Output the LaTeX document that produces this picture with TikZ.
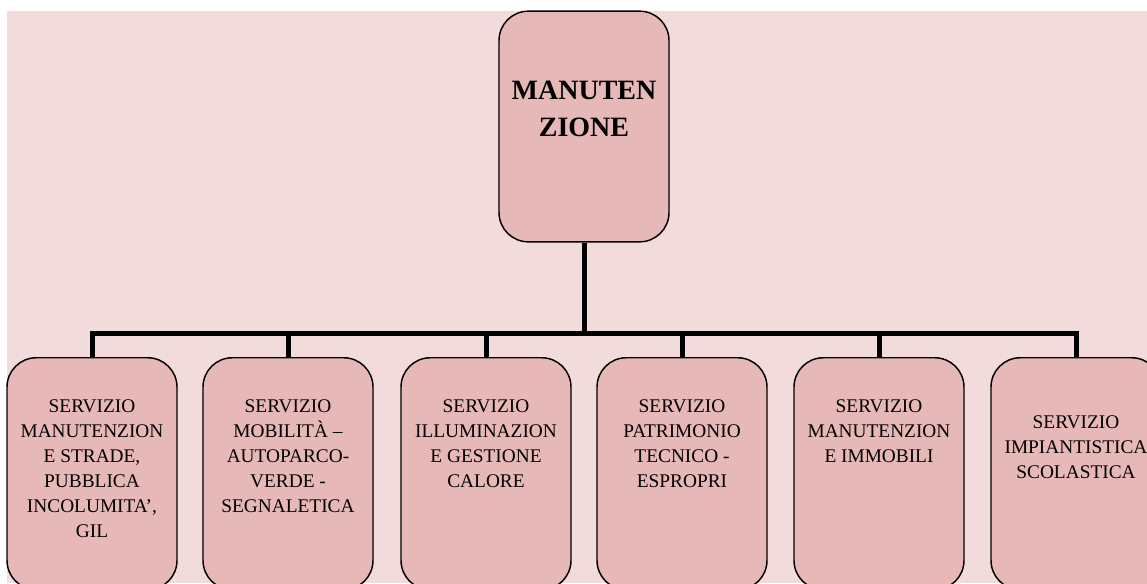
\documentclass[tikz,border=0pt]{standalone}
\usepackage{fontspec}
\setmainfont{Liberation Serif}
\usetikzlibrary{positioning}

\definecolor{bgpink}{RGB}{242,220,219}
\definecolor{boxpink}{RGB}{230,184,183}

\tikzset{
    topbox/.style={draw=black, line width=1.1pt, fill=boxpink, rounded corners=22pt,
        minimum width=127.5pt, minimum height=173pt, inner sep=0pt},
    servbox/.style={draw=black, line width=1.1pt, fill=boxpink, rounded corners=22pt,
        minimum width=127.5pt, minimum height=174pt, inner sep=0pt},
    toptext/.style={align=center, inner sep=0pt, font=\fontsize{21}{27.75}\selectfont\bfseries},
    servtext/.style={align=center, inner sep=0pt, font=\fontsize{14.5}{18.75}\selectfont},
    conn/.style={line width=3.75pt}
}

\begin{document}
\begin{tikzpicture}[x=0.75pt, y=-0.75pt]

    % --- Page and background ---
    \useasboundingbox (0,0) rectangle (1147,583);
    \clip (0,0) rectangle (1147,583);
    \fill[bgpink] (7,11) rectangle (1147,583);

    % --- Boxes ---
    % head of the area
    \node[topbox] (manut) at (584,126.5) {};
    % the six services, 197px apart
    \node[servbox, anchor=north] (strade) at (92,357) {};
    \node[servbox, anchor=north] (mobil) at (288,357) {};
    \node[servbox, anchor=north] (illum) at (486,357) {};
    \node[servbox, anchor=north] (patrim) at (682,357) {};
    \node[servbox, anchor=north] (immob) at (879,357) {};
    \node[servbox, anchor=north] (scuola) at (1076,357) {};

    % --- Texts ---
    \node[toptext, below=53pt of manut.north] (tmanut) {MANUTEN\\ZIONE};
    \node[servtext, below=31.5pt of strade.north] (tstrade)
        {SERVIZIO\\MANUTENZION\\E STRADE,\\PUBBLICA\\INCOLUMITA’,\\GIL};
    \node[servtext, below=31.5pt of mobil.north] (tmobil)
        {SERVIZIO\\MOBILITÀ –\\AUTOPARCO-\\VERDE -\\SEGNALETICA};
    \node[servtext, below=31.5pt of illum.north] (tillum)
        {SERVIZIO\\ILLUMINAZION\\E GESTIONE\\CALORE};
    \node[servtext, below=31.5pt of patrim.north] (tpatrim)
        {SERVIZIO\\PATRIMONIO\\TECNICO -\\ESPROPRI};
    \node[servtext, below=31.5pt of immob.north] (timmob)
        {SERVIZIO\\MANUTENZION\\E IMMOBILI};
    \node[servtext, below=43.5pt of scuola.north] (tscuola)
        {SERVIZIO\\IMPIANTISTICA\\SCOLASTICA};

    % --- Connectors ---
    \coordinate (bar) at (584,333);
    \draw[conn] (manut.south) -- (bar);
    \draw[conn] (strade.north) |- (scuola.north |- bar) -- (scuola.north);
    \draw[conn] (mobil.north) -- (mobil.north |- bar);
    \draw[conn] (illum.north) -- (illum.north |- bar);
    \draw[conn] (patrim.north) -- (patrim.north |- bar);
    \draw[conn] (immob.north) -- (immob.north |- bar);

\end{tikzpicture}
\end{document}
